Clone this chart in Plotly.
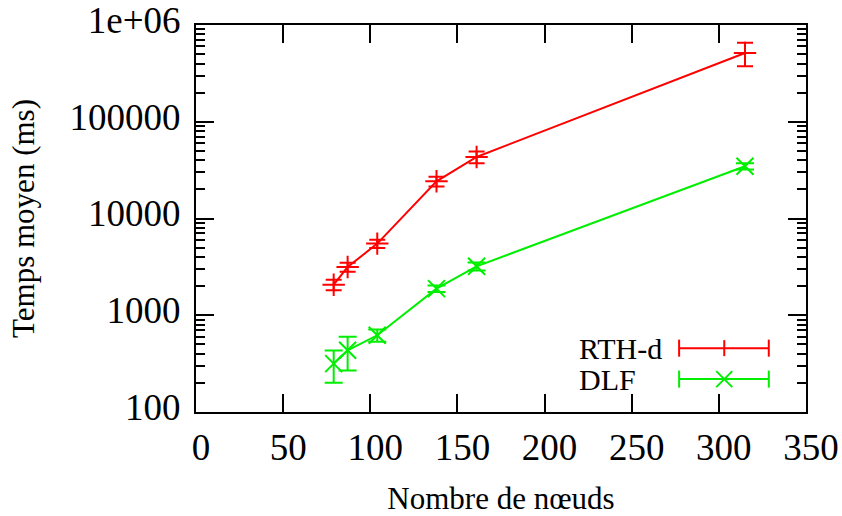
import plotly.graph_objects as go

# Data
nodes = [79, 87, 104, 138, 161, 315]
rth_d = [2070, 3150, 5500, 24250, 43250, 514000]
rth_d_err = [260, 330, 530, 2800, 5900, 140000]
dlf = [316, 434, 621, 1885, 3206, 34640]
dlf_err = [115, 165, 90, 150, 300, 2500]

y_tickvals = [100, 1000, 10000, 100000, 1000000]
y_ticktext = ["100", "1000", "10000", "100000", "1e+06"]
x_tickvals = [0, 50, 100, 150, 200, 250, 300, 350]

RED = "#ff0000"
GREEN = "#00ee00"
FONT = "Liberation Serif"

fig = go.Figure()
fig.add_trace(go.Scatter(
    x=nodes, y=rth_d, name="RTH-d", mode="lines+markers",
    line=dict(color=RED, width=2),
    marker=dict(symbol="cross-thin-open", size=16, line=dict(color=RED, width=2)),
    error_y=dict(type="data", array=rth_d_err, visible=True, color=RED, thickness=2, width=8),
    showlegend=False,
))
fig.add_trace(go.Scatter(
    x=nodes, y=dlf, name="DLF", mode="lines+markers",
    line=dict(color=GREEN, width=2),
    marker=dict(symbol="x-thin-open", size=17, line=dict(color=GREEN, width=2)),
    error_y=dict(type="data", array=dlf_err, visible=True, color=GREEN, thickness=2, width=9),
    showlegend=False,
))

minor_vals = [m * 10 ** e for e in range(2, 6) for m in range(2, 10)]

fig.update_layout(
    width=842, height=516,
    margin=dict(l=196, r=36, t=25, b=104),
    paper_bgcolor="white", plot_bgcolor="white",
    font=dict(family=FONT, color="black"),
    xaxis=dict(
        range=[0, 350], tickmode="array", tickvals=x_tickvals,
        ticks="inside", ticklen=18, tickwidth=2, tickcolor="black",
        showline=True, linecolor="black", linewidth=2, mirror="allticks",
        showgrid=False, zeroline=False, automargin=False,
        tickfont=dict(family=FONT, size=37), ticklabeloverflow="allow",
        ticklabelstandoff=2, ticklabelshift=5,
        title=dict(text="Nombre de nœuds", font=dict(family=FONT, size=31), standoff=31),
    ),
    yaxis=dict(
        type="log", range=[2, 6], tickmode="array", tickvals=y_tickvals, ticktext=y_ticktext,
        ticks="inside", ticklen=18, tickwidth=2, tickcolor="black",
        minor=dict(tickmode="array", tickvals=minor_vals, ticks="inside", ticklen=9,
                   tickwidth=2, tickcolor="black", showgrid=False),
        showline=True, linecolor="black", linewidth=2, mirror="allticks",
        showgrid=False, zeroline=False, automargin=False,
        tickfont=dict(family=FONT, size=37), ticklabeloverflow="allow",
        ticklabelstandoff=6, ticklabelshift=-5,
        title=dict(text="Temps moyen (ms)", font=dict(family=FONT, size=31), standoff=26),
    ),
)

# Custom legend (text on the left, sample on the right, as in the reference)
legend_items = [("RTH-d", RED, "plus", 0.165), ("DLF", GREEN, "x", 0.085)]
x0, x1, xm, xt = 0.792, 0.939, 0.866, 0.624
cap = 0.022  # half-height of the end caps in paper units
for label, col, sym, yy in legend_items:
    fig.add_annotation(x=xt, y=yy, xref="paper", yref="paper", text=label,
                       showarrow=False, xanchor="left", yanchor="middle",
                       font=dict(family=FONT, size=30, color="black"))
    fig.add_shape(type="line", xref="paper", yref="paper", x0=x0, x1=x1, y0=yy, y1=yy,
                  line=dict(color=col, width=2))
    for xc in (x0, x1):
        fig.add_shape(type="line", xref="paper", yref="paper", x0=xc, x1=xc,
                      y0=yy - cap, y1=yy + cap, line=dict(color=col, width=2))
    dx = 8 / 610
    dy = 8 / 387
    if sym == "plus":
        fig.add_shape(type="line", xref="paper", yref="paper", x0=xm, x1=xm,
                      y0=yy - dy, y1=yy + dy, line=dict(color=col, width=2))
    else:
        fig.add_shape(type="line", xref="paper", yref="paper", x0=xm - dx, x1=xm + dx,
                      y0=yy - dy, y1=yy + dy, line=dict(color=col, width=2))
        fig.add_shape(type="line", xref="paper", yref="paper", x0=xm - dx, x1=xm + dx,
                      y0=yy + dy, y1=yy - dy, line=dict(color=col, width=2))

fig.write_html("out.html", config={"displayModeBar": False},
               post_script="document.body.style.margin='0';")
